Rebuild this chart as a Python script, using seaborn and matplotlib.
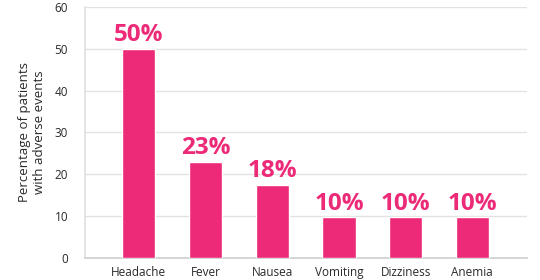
import matplotlib
matplotlib.use("Agg")
import matplotlib.pyplot as plt
import seaborn as sns
import pandas as pd

categories = ["Headache", "Fever", "Nausea", "Vomiting", "Dizziness", "Anemia"]
values = [50, 23, 17.5, 9.8, 9.8, 9.8]
value_labels = ["50%", "23%", "18%", "10%", "10%", "10%"]
y_ticks = [0, 10, 20, 30, 40, 50, 60]

PINK = "#EC2A78"
GRID = "#E2E2E2"
TEXT = "#2A2A2A"

sns.set_theme(style="white")
plt.rcParams["font.family"] = ["Open Sans", "DejaVu Sans"]

df = pd.DataFrame({"cat": categories, "val": values})

fig = plt.figure(figsize=(5.4, 2.8), dpi=100)
ax = fig.add_axes([0.157, 0.079, 0.819, 0.896])

sns.barplot(data=df, x="cat", y="val", color=PINK, saturation=1, width=0.5, ax=ax, zorder=3)

for p, lab in zip(ax.patches, value_labels):
    ax.annotate(lab, (p.get_x() + p.get_width() / 2, p.get_height()),
                xytext=(0, 1), textcoords="offset points", ha="center", va="bottom",
                fontsize=17.5, fontweight="bold", color=PINK)

ax.set_ylim(0, 60)
ax.set_xlim(-0.81, 5.82)
ax.set_yticks(y_ticks)
ax.yaxis.grid(True, color=GRID, linewidth=1)
ax.set_axisbelow(True)
for s in ["top", "right"]:
    ax.spines[s].set_visible(False)
ax.spines["left"].set_color(GRID)
ax.spines["bottom"].set_color("#D0D0D0")
ax.tick_params(axis="y", length=9, color=GRID, width=1, labelsize=8.5, labelcolor=TEXT, pad=3)
ax.tick_params(axis="x", length=0, labelsize=8.5, labelcolor=TEXT, pad=6)
ax.set_xlabel("")
ax.set_ylabel("Percentage of patients\nwith adverse events", fontsize=9.5, color=TEXT, labelpad=6)

fig.savefig("out.png", dpi=100)
